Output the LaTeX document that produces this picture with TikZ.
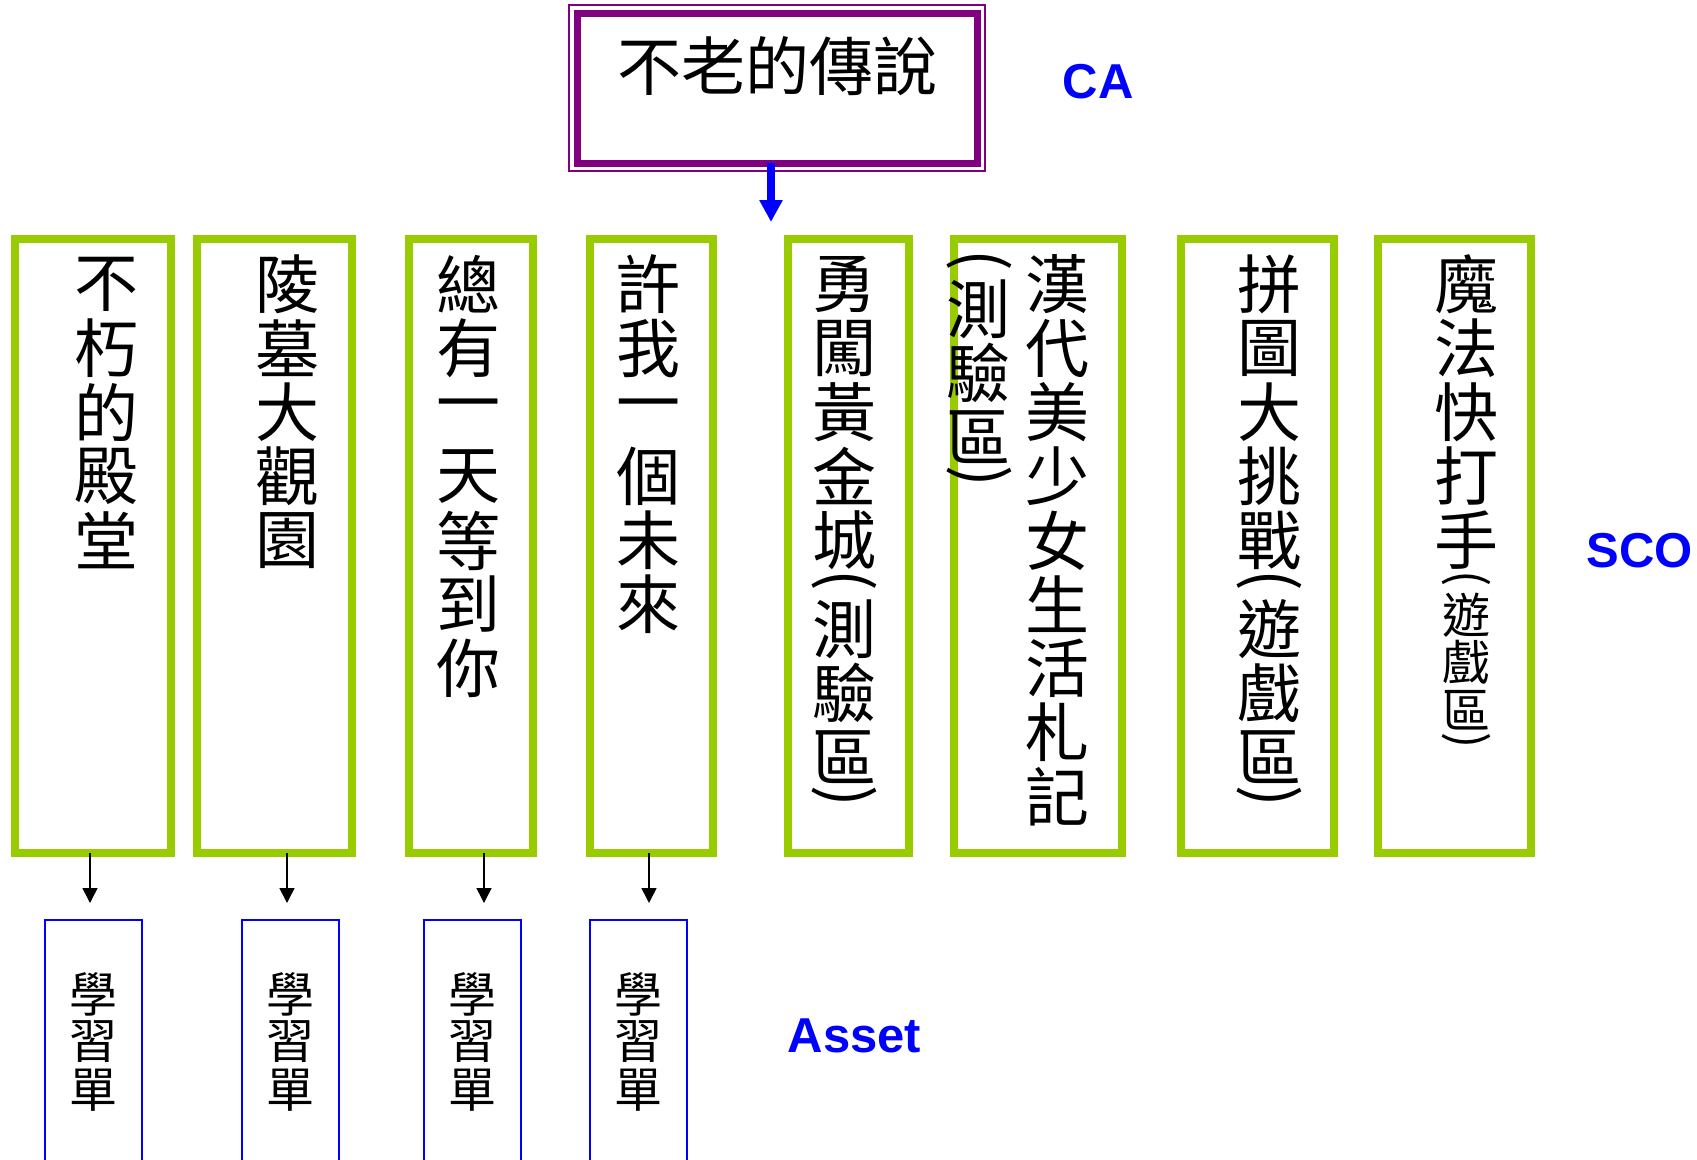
\documentclass[tikz,border=0pt]{standalone}
\usepackage{fontspec}
\usepackage{graphicx}
\usetikzlibrary{arrows.meta,positioning}
\newfontfamily\cjk{Noto Sans CJK TC}
\newfontfamily\tagfont{Liberation Sans}
\definecolor{capurple}{HTML}{800080}
\definecolor{scogreen}{HTML}{99CC00}

% vertical (top to bottom) text, one cell per character
\newlength\cellwd
\makeatletter
\newcommand\vcell[1]{\hbox{\parbox[c][1em][c]{\cellwd}{\centering #1}}}
\newcommand\vcol[1]{\@tfor\vc@tok:=#1\do{\vcell{\vc@tok}}}
\makeatother
\newcommand\vlp{\hbox{\parbox[c][0.38em][c]{\cellwd}{\centering\rotatebox[origin=c]{-90}{(}}}}
\newcommand\vrp{\hbox{\parbox[c][0.38em][c]{\cellwd}{\centering\rotatebox[origin=c]{-90}{)}}}}
\newcommand\vstack[1]{\vbox{\offinterlineskip #1}}

\begin{document}
\begin{tikzpicture}[x=1pt,y=-1pt]
    \tikzset{
        ca box/.style={draw=capurple, line width=7pt, minimum width=400pt, minimum height=150pt,
            inner sep=0pt, outer sep=0pt, text height=77pt, text depth=73pt,
            font=\cjk\fontsize{64}{64}\selectfont},
        ca arrow/.style={draw=blue, line width=7.5pt, -{Triangle[width=22pt,length=22pt]}},
        sco box/.style={draw=scogreen, line width=8pt, minimum height=614.5pt, outer sep=0pt},
        sco text/.style={inner sep=0pt, font=\cjk\fontsize{64}{64}\selectfont\setlength\cellwd{1em}},
        asset box/.style={draw=blue, line width=2pt, minimum width=97pt, minimum height=244pt,
            inner sep=0pt, font=\cjk\fontsize{48}{48}\selectfont\setlength\cellwd{1em}},
        leaf arrow/.style={line width=1.5pt, -{Triangle[width=15pt,length=15pt]}, shorten >=16pt},
        tag/.style={text=blue, anchor=base, font=\tagfont\bfseries\fontsize{49}{49}\selectfont}
    }
    \useasboundingbox (0,0) rectangle (1697,1159);
    \clip (0,0) rectangle (1697,1159);

    % CA
    \node[ca box] (ca) at (777,88) {不老的傳說};
    \draw[capurple, line width=1.5pt]
        ([shift={(-8pt,8pt)}]ca.north west) rectangle ([shift={(8pt,-8pt)}]ca.south east);
    \node[tag] (catag) at (1098,98) {CA};
    \coordinate (caend) at (771,222);
    \draw[ca arrow] (ca.south -| caend) -- (caend);

    % SCO
    \foreach \i/\xc/\w in {1/92.5/156,2/274/155,3/470.5/124,4/651/123,
                           5/848/121,6/1037.5/168,7/1257/153,8/1454/153}
        \node[sco box, minimum width=\w pt] (sco\i) at (\xc,546) {};

    \node[sco text, below left=13.5pt and 32pt of sco1.north east] (t1) {\vstack{\vcol{不朽的殿堂}}};
    \node[sco text, below left=13.5pt and 32pt of sco2.north east] (t2) {\vstack{\vcol{陵墓大觀園}}};
    \node[sco text, below left=13.5pt and 32pt of sco3.north east] (t3) {\vstack{\vcol{總有一天等到你}}};
    \node[sco text, below left=13.5pt and 32pt of sco4.north east] (t4) {\vstack{\vcol{許我一個未來}}};
    \node[sco text, below left=13.5pt and 32pt of sco5.north east] (t5)
        {\vstack{\vcol{勇闖黃金城}\vlp\vcol{測驗區}\vrp}};
    \node[sco text, below left=13.5pt and 32pt of sco6.north east] (t6)
        {\vstack{\vcol{漢代美少女生活札記}}};
    \node[sco text, below left=0pt and 14pt of t6.north west] (t6b) {\vstack{\vlp\vcol{測驗區}\vrp}};
    \node[sco text, below left=13.5pt and 32pt of sco7.north east] (t7)
        {\vstack{\vcol{拼圖大挑戰}\vlp\vcol{遊戲區}\vrp}};
    \node[sco text, below left=13.5pt and 32pt of sco8.north east] (t8)
        {\vstack{\vcol{魔法快打手}{\fontsize{48}{48}\selectfont\vlp\vcol{遊戲區}\vrp}}};
    \node[tag] (scotag) at (1640,567) {SCO};

    % Asset
    \foreach \i/\xc/\dx in {1/93.5/-3.5,2/290/-3,3/472/12,4/638/11} {
        \node[asset box] (asset\i) at (\xc,1042) {\vstack{\vcol{學習單}}};
        \coordinate (tip\i) at ([xshift=\dx pt]asset\i.north);
        \draw[leaf arrow] (sco\i.south -| tip\i) -- (tip\i);
    }
    \node[tag] (assettag) at (854.5,1052) {Asset};
\end{tikzpicture}
\end{document}
